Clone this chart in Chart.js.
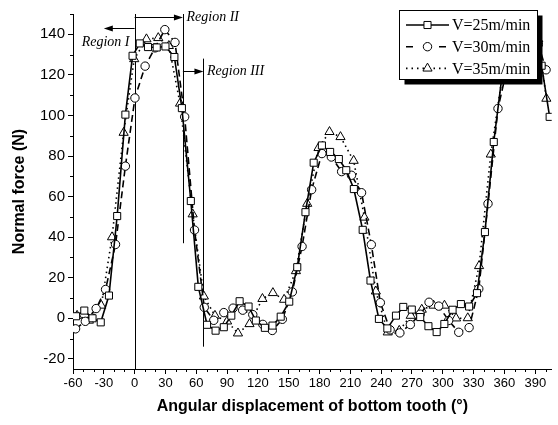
<!DOCTYPE html>
<html lang="en">
<head>
  <meta charset="UTF-8" />
  <title>Normal force vs angular displacement</title>
  <script src="https://cdn.jsdelivr.net/npm/chart.js@4.4.1/dist/chart.umd.min.js"></script>
  <style>
    html, body { margin: 0; padding: 0; background: #fff; }
    #wrap { width: 558px; height: 425px; }
  </style>
</head>
<body>
  <div id="wrap"><canvas id="forceChart" width="558" height="425"></canvas></div>
  <script>
    // V=25m/min  (squares, solid line)
    const angle25 = [-57, -49, -41, -33, -25, -17, -9, -2, 5, 13, 21.5, 30, 38.7, 46, 54.7, 62, 70.5, 78.8, 86.8, 94.1,
      102.2, 110.9, 118, 126.8, 134.2, 142.2, 150.5, 158.3, 166.3, 174.3, 182.3, 190.3, 198.8, 206, 213.4, 222, 229.6,
      237.8, 246, 254.4, 261.5, 269.8, 278, 286, 294, 301.5, 309.5, 317.6, 325.6, 333.3, 341, 349.6, 357.5, 365, 373,
      381, 389, 396.2, 404];
    const force25 = [1, 3.8, 0, -2, 11.2, 50.4, 100.4, 129.4, 135.5, 133.7, 133.5, 134, 128.8, 103.6, 57.8, 15.5, -3.2,
      -6.1, -4.4, 1.3, 8.4, 5.8, -1.1, -4.7, -3.6, 0.8, 8.2, 25.2, 52.3, 76.7, 85.2, 82, 78.5, 73, 63.7, 43.6, 18.6,
      -0.3, -5, 1.3, 5.6, 4.3, 0.6, -3.9, -6.8, -2.8, 4.2, 7, 5.8, 12.4, 42.5, 86.9, 119, 132, 136, 135, 133, 124.5, 99.3];

    // V=30m/min  (circles, dashed line)
    const angle30 = [-57.5, -48, -37.5, -28.3, -18.6, -9, 0.3, 10.2, 19.8, 29.4, 39.3, 48.7, 58.3, 67.8, 77, 86.8,
      95.8, 105.2, 115, 124.8, 134, 143.8, 153.5, 163, 172.3, 182.3, 191.5, 201.5, 211.1, 220.9, 230.4, 239.2, 248.7,
      258.2, 268.4, 278, 286.6, 296, 305.7, 315.5, 325.6, 335, 344, 353.7, 363.3, 373, 382.5, 393, 400.5];
    const force30 = [-5.2, -1.5, 4.8, 14.2, 36.4, 75, 108.6, 124.3, 133.3, 142.3, 136, 99.3, 43.5, 5.4, -1, 2.8, 5, 4,
      1.8, -3, -6, -0.5, 13, 35.4, 63.4, 81.2, 79.5, 72.3, 70.5, 61.9, 36.3, 7.7, -5.7, -7.2, -3.1, 2, 7.9, 6, -1.1,
      -6.9, -4.6, 14.5, 56.5, 103.4, 125, 134, 140, 135, 122.5];

    // V=35m/min  (triangles, dotted line)
    const angle35 = [-56, -44.5, -32.5, -22, -10.7, -0.4, 11.5, 23, 33.3, 44.2, 56.5, 67.4, 78.2, 90, 100.6, 111.8,
      124.4, 134.6, 145.5, 157, 168, 179, 189.7, 200.4, 213.2, 223.7, 234.8, 246.4, 257.6, 268.8, 279.5, 291, 301.6,
      312.9, 324.3, 335.3, 346.7, 358, 369, 380.5, 393, 400.8];
    const force35 = [1.3, -1.1, 6.3, 40, 91.5, 127.8, 137.6, 138.2, 134.3, 105.9, 51.3, 10.8, 1.3, -1.5, -7.4, -2.8,
      9.6, 12.5, 9.2, 23.3, 56.5, 84, 91.9, 89.4, 77.7, 49.7, 13.3, -6.9, -6.1, 1.3, 4.3, 6.3, 6.3, 0, 0.1, 25.8, 80.8,
      120, 135, 139, 137.5, 108.3];

    const seriesLabels = ['V=25m/min', 'V=30m/min', 'V=35m/min'];
    const xTicks = [-60, -30, 0, 30, 60, 90, 120, 150, 180, 210, 240, 270, 300, 330, 360, 390];
    const yTicks = [-20, 0, 20, 40, 60, 80, 100, 120, 140];

    // region boundaries, arrows and captions (data units)
    const regionLines = [[0, -25, 150], [47, 37, 150], [67, -14, 128]];
    const regionArrows = [[0, -30, 143], [0, 47, 148.3], [47, 67, 121.8]];
    const regionCaptions = [['Region I', -5, 136, 'right'], ['Region II', 50.5, 148.5, 'left'], ['Region III', 70.5, 121.8, 'left']];

    const sansFont = "'Liberation Sans', Arial, sans-serif";
    const serifFont = "'Liberation Serif', 'Times New Roman', serif";

    const toPoints = (xs, ys) => xs.map((x, i) => ({ x, y: ys[i] }));

    function drawMarker(ctx, style, x, y, r) {
      ctx.beginPath();
      if (style === 'rect') {
        const s = Math.SQRT1_2 * r;
        ctx.rect(x - s, y - s, 2 * s, 2 * s);
      } else if (style === 'triangle') {
        let rad = 0;
        ctx.moveTo(x + Math.sin(rad) * r, y - Math.cos(rad) * r);
        rad += Math.PI * 2 / 3;
        ctx.lineTo(x + Math.sin(rad) * r, y - Math.cos(rad) * r);
        rad += Math.PI * 2 / 3;
        ctx.lineTo(x + Math.sin(rad) * r, y - Math.cos(rad) * r);
        ctx.closePath();
      } else {
        ctx.arc(x, y, r, 0, Math.PI * 2);
      }
      ctx.fillStyle = '#fff';
      ctx.fill();
      ctx.lineWidth = 1;
      ctx.setLineDash([]);
      ctx.strokeStyle = '#000';
      ctx.stroke();
    }

    const minorTicks = {
      id: 'minorTicks',
      afterDraw(chart) {
        const { ctx, chartArea: a, scales: { x, y } } = chart;
        ctx.save();
        ctx.strokeStyle = '#000';
        ctx.lineWidth = 1;
        ctx.beginPath();
        for (let v = -50; v <= 400; v += 10) {
          if (v % 30 === 0) continue;
          const px = Math.round(x.getPixelForValue(v)) + 0.5;
          ctx.moveTo(px, a.bottom);
          ctx.lineTo(px, a.bottom + 3);
        }
        for (let v = -10; v <= 150; v += 20) {
          const py = Math.round(y.getPixelForValue(v)) + 0.5;
          ctx.moveTo(a.left, py);
          ctx.lineTo(a.left - 3, py);
        }
        ctx.stroke();
        ctx.restore();
      }
    };

    const regions = {
      id: 'regions',
      beforeDatasetsDraw(chart) {
        const { ctx, scales: { x, y } } = chart;
        ctx.save();
        ctx.strokeStyle = '#000';
        ctx.fillStyle = '#000';
        ctx.lineWidth = 1;
        regionLines.forEach(([v, lo, hi]) => {
          const px = Math.round(x.getPixelForValue(v)) + 0.5;
          ctx.beginPath();
          ctx.moveTo(px, y.getPixelForValue(hi));
          ctx.lineTo(px, y.getPixelForValue(lo));
          ctx.stroke();
        });
        regionArrows.forEach(([from, to, v]) => {
          const x1 = x.getPixelForValue(from), x2 = x.getPixelForValue(to);
          const py = Math.round(y.getPixelForValue(v)) + 0.5;
          const dir = Math.sign(x2 - x1);
          ctx.beginPath();
          ctx.moveTo(x1, py);
          ctx.lineTo(x2 - dir * 6, py);
          ctx.stroke();
          ctx.beginPath();
          ctx.moveTo(x2, py);
          ctx.lineTo(x2 - dir * 9, py - 3);
          ctx.lineTo(x2 - dir * 9, py + 3);
          ctx.closePath();
          ctx.fill();
        });
        ctx.font = 'italic 14px ' + serifFont;
        ctx.textBaseline = 'middle';
        regionCaptions.forEach(([text, v, f, align]) => {
          ctx.textAlign = align;
          ctx.fillText(text, x.getPixelForValue(v), y.getPixelForValue(f));
        });
        ctx.restore();
      }
    };

    const boxLegend = {
      id: 'boxLegend',
      afterDraw(chart) {
        const ctx = chart.ctx;
        const bx = 399.5, by = 10.5, bw = 138, bh = 69;
        ctx.save();
        ctx.fillStyle = '#000';
        ctx.fillRect(bx + 5, by + 5, bw, bh);
        ctx.fillStyle = '#fff';
        ctx.fillRect(bx, by, bw, bh);
        ctx.strokeStyle = '#000';
        ctx.lineWidth = 1;
        ctx.strokeRect(bx, by, bw, bh);
        chart.data.datasets.forEach((ds, i) => {
          const ry = 25 + i * 21.7;
          ctx.strokeStyle = '#000';
          ctx.lineWidth = ds.borderWidth;
          ctx.setLineDash(ds.legendDash);
          ctx.beginPath();
          ctx.moveTo(406, ry);
          ctx.lineTo(449, ry);
          ctx.stroke();
          drawMarker(ctx, ds.pointStyle, 427.5, ry, ds.pointRadius);
          ctx.fillStyle = '#000';
          ctx.font = '16px ' + serifFont;
          ctx.textAlign = 'left';
          ctx.textBaseline = 'middle';
          ctx.fillText(ds.label, 452, ry + 1);
        });
        ctx.restore();
      }
    };

    const common = {
      showLine: true,
      borderColor: '#000',
      borderWidth: 1.6,
      tension: 0,
      pointBackgroundColor: '#fff',
      pointBorderColor: '#000',
      pointBorderWidth: 1
    };

    new Chart(document.getElementById('forceChart'), {
      type: 'scatter',
      data: {
        datasets: [
          { ...common, label: seriesLabels[0], data: toPoints(angle25, force25), pointStyle: 'rect', pointRadius: 5,
            borderDash: [], legendDash: [] },
          { ...common, label: seriesLabels[1], data: toPoints(angle30, force30), pointStyle: 'circle', pointRadius: 4.2,
            borderDash: [7, 4], legendDash: [7, 26] },
          { ...common, label: seriesLabels[2], data: toPoints(angle35, force35), pointStyle: 'triangle', pointRadius: 5.3,
            borderDash: [1.5, 3.5], legendDash: [1.5, 4] }
        ]
      },
      options: {
        responsive: false,
        animation: false,
        layout: { padding: { top: 14, right: 0, left: 0, bottom: 0 } },
        plugins: { legend: { display: false }, tooltip: { enabled: false } },
        scales: {
          x: {
            type: 'linear',
            min: -60,
            max: 406,
            afterBuildTicks: s => { s.ticks = xTicks.map(v => ({ value: v })); },
            afterFit: s => { s.height = 56; },
            ticks: { color: '#000', padding: 2, maxRotation: 0, autoSkip: false,
              font: { family: sansFont, size: 13 }, callback: v => String(v) },
            grid: { drawOnChartArea: false, drawTicks: true, tickLength: 5, color: '#000' },
            border: { display: true, color: '#000', width: 1 },
            title: { display: true, text: 'Angular displacement of bottom tooth (°)', color: '#000',
              font: { family: sansFont, size: 16, weight: 'bold' }, padding: { top: 0, bottom: 9 } }
          },
          y: {
            type: 'linear',
            min: -25,
            max: 150,
            afterBuildTicks: s => { s.ticks = yTicks.map(v => ({ value: v })); },
            afterFit: s => { s.width = 73; },
            ticks: { color: '#000', padding: 3, autoSkip: false,
              font: { family: sansFont, size: 15 }, callback: v => String(v) },
            grid: { drawOnChartArea: false, drawTicks: true, tickLength: 5, color: '#000' },
            border: { display: true, color: '#000', width: 1 },
            title: { display: true, text: 'Normal force (N)', color: '#000',
              font: { family: sansFont, size: 16, weight: 'bold' }, padding: { top: 10, bottom: 0 } }
          }
        }
      },
      plugins: [minorTicks, regions, boxLegend]
    });
  </script>
</body>
</html>
